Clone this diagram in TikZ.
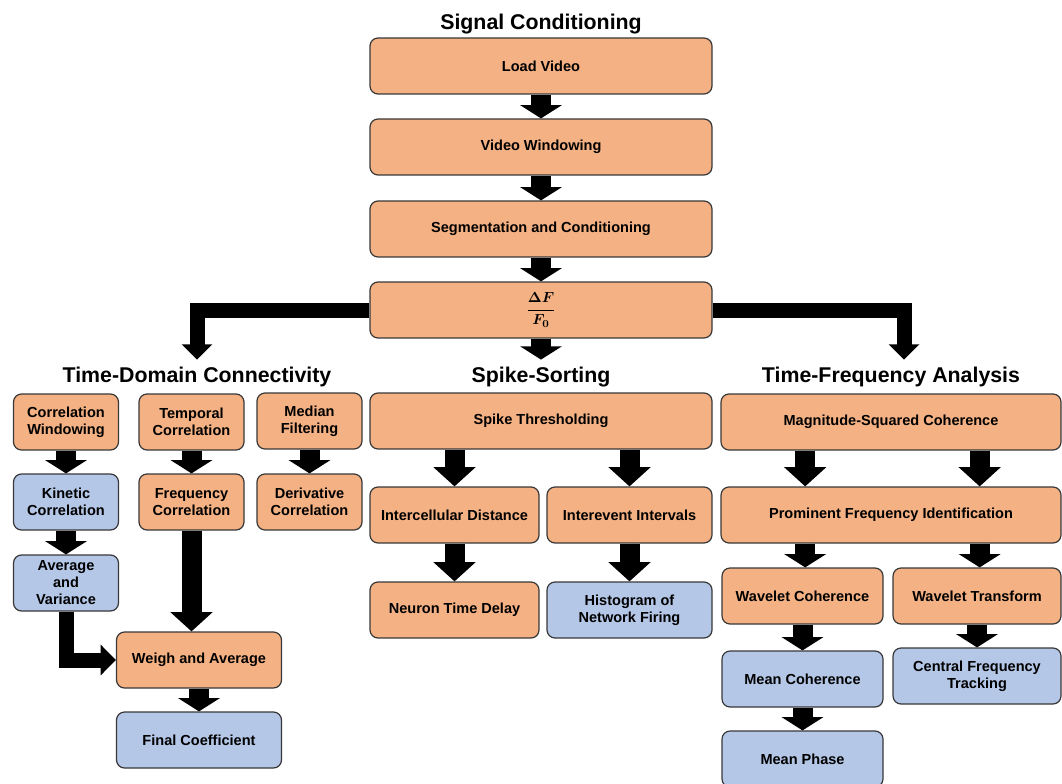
\documentclass[tikz,border=0pt]{standalone}
\usepackage{amsmath,bm}
\usepackage{fontspec}
\setmainfont{Liberation Sans}
\usepackage{tikz}
\usetikzlibrary{arrows.meta,positioning,calc}
\definecolor{boxorange}{HTML}{F4B183}
\definecolor{boxblue}{HTML}{B4C7E7}
\definecolor{boxline}{HTML}{383838}

\begin{document}
\begin{tikzpicture}[
    x=0.75pt, y=-0.75pt,
    box/.style={rectangle, rounded corners=6pt, draw=boxline, line width=0.9pt, fill=boxorange,
        align=center, font=\fontsize{10.9}{12.75}\selectfont\bfseries, inner sep=2pt, minimum height=42pt},
    result/.style={box, fill=boxblue},
    widebox/.style={minimum width=256.5pt},
    smallbox/.style={minimum width=78.75pt},
    midbox/.style={minimum width=123.75pt},
    halfbox/.style={minimum width=126.75pt},
    cohbox/.style={minimum width=120.75pt},
    header/.style={font=\fontsize{16}{19}\selectfont\bfseries, anchor=base, inner xsep=0pt, inner ysep=5pt},
    flow/.style={line width=15pt, -{Triangle[width=31pt,length=10pt]}},
    flowlong/.style={line width=15pt, -{Triangle[width=31pt,length=14.5pt]}},
    branch/.style={line width=11.25pt, -{Triangle[width=22.5pt,length=11.5pt]}}
]
    \useasboundingbox (0,0) rectangle (1062,784);

    % Signal conditioning
    \node[header] (sc) at (541,30) {Signal Conditioning};
    \node[box,widebox] (load) at (541,66) {Load Video};
    \node[box,widebox] (vwin) at (541,147) {Video Windowing};
    \node[box,widebox] (seg) at (541,229) {Segmentation and Conditioning};
    \node[box,widebox] (df) at (541,310) {$\displaystyle\bm{\frac{\Delta F}{F_0}}$};

    \draw[flow] (load) -- (vwin);
    \draw[flow] (vwin) -- (seg);
    \draw[flow] (seg) -- (df);

    % Section headers
    \node[header] (tdc) at (197,382) {Time-Domain Connectivity};
    \node[header] (ss) at (541,382) {Spike-Sorting};
    \node[header] (tfa) at (891,382) {Time-Frequency Analysis};

    \draw[branch] (df.west) -| (tdc.north);
    \draw[flow] (df) -- (ss);
    \draw[branch] (df.east) -| ([xshift=9.75pt]tfa.north);

    % Time-domain connectivity
    \node[box,smallbox] (cwin) at (66,422) {Correlation\\Windowing};
    \node[box,smallbox] (temp) at (191.5,422) {Temporal\\Correlation};
    \node[box,smallbox] (med) at (309.5,421) {Median\\Filtering};
    \node[result,smallbox] (kin) at (66,502) {Kinetic\\Correlation};
    \node[box,smallbox] (freq) at (191.5,502) {Frequency\\Correlation};
    \node[box,smallbox] (deriv) at (309.5,502) {Derivative\\Correlation};
    \node[result,smallbox] (avg) at (66,583) {Average\\and\\Variance};
    \node[box,midbox] (weigh) at (199,660) {Weigh and Average};
    \node[result,midbox] (final) at (199,740) {Final Coefficient};

    \draw[flow] (cwin) -- (kin);
    \draw[flow] (kin) -- (avg);
    \draw[flow] (temp) -- (freq);
    \draw[flow] (med) -- (deriv);
    \draw[flowlong] (freq.south) -- (freq.south |- weigh.north);
    \draw[branch] (avg.south) |- (weigh.west);
    \draw[flow] (weigh) -- (final);

    % Spike-sorting
    \node[box,widebox] (thr) at (541,421) {Spike Thresholding};
    \node[box,halfbox] (idist) at (454.5,515) {Intercellular Distance};
    \node[box,midbox] (iei) at (629.5,515) {Interevent Intervals};
    \node[box,halfbox] (ntd) at (454.5,610) {Neuron Time Delay};
    \node[result,midbox] (hist) at (629.5,610) {Histogram of\\Network Firing};

    \draw[flowlong] (idist |- thr.south) -- (idist);
    \draw[flowlong] (iei |- thr.south) -- (iei);
    \draw[flowlong] (idist) -- (ntd);
    \draw[flowlong] (iei) -- (hist);

    % Time-frequency analysis
    \node[box,minimum width=255pt] (msc) at (891,422) {Magnitude-Squared Coherence};
    \node[box,minimum width=255pt] (pfi) at (891,515) {Prominent Frequency Identification};
    \node[box,cohbox] (wcoh) at (802.5,596) {Wavelet Coherence};
    \node[box,minimum width=126pt] (wtr) at (977,596) {Wavelet Transform};
    \node[result,cohbox] (mcoh) at (802.5,679) {Mean Coherence};
    \node[result,minimum width=126pt] (cft) at (977,676) {Central Frequency\\Tracking};
    \node[result,cohbox] (mph) at (802.5,759) {Mean Phase};

    \draw[flowlong] ([xshift=2pt]wcoh |- msc.south) -- ([xshift=2pt]wcoh |- pfi.north);
    \draw[flowlong] ([xshift=2pt]wtr |- msc.south) -- ([xshift=2pt]wtr |- pfi.north);
    \draw[flow] ([xshift=2pt]wcoh |- pfi.south) -- ([xshift=2pt]wcoh.north);
    \draw[flow] ([xshift=2pt]wtr |- pfi.south) -- ([xshift=2pt]wtr.north);
    \draw[flow] (wcoh) -- (mcoh);
    \draw[flow] (wtr) -- (cft);
    \draw[flow] (mcoh) -- (mph);
\end{tikzpicture}
\end{document}
